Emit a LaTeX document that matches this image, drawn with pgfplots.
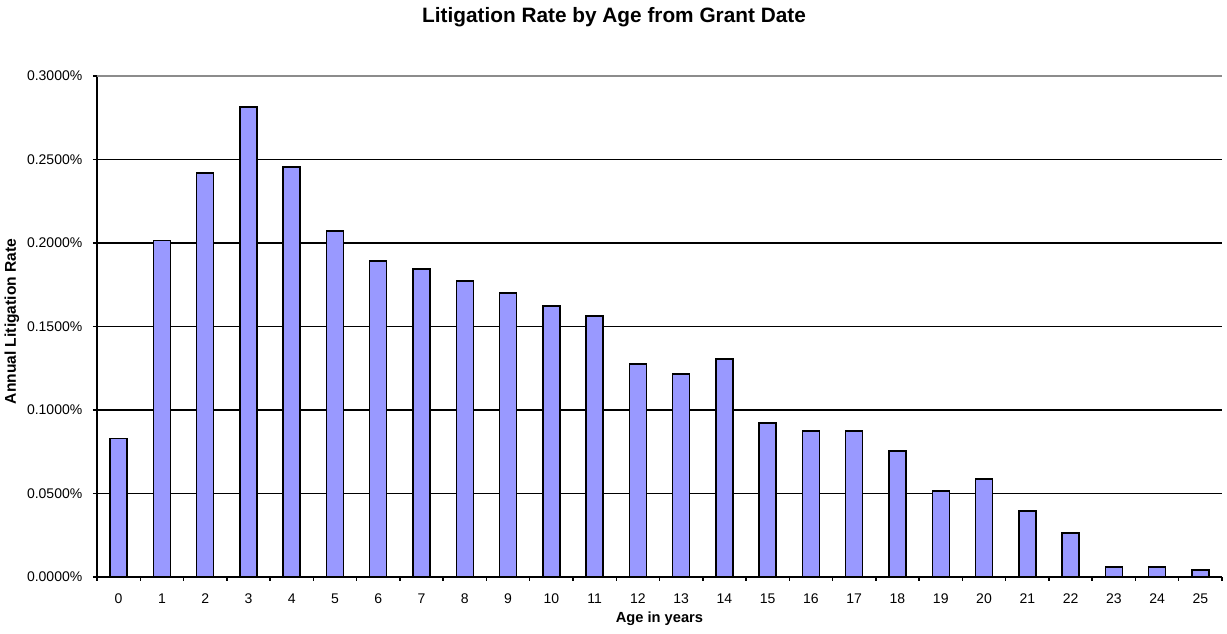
\documentclass[border=0pt]{standalone}
\usepackage{pgfplots}
\pgfplotsset{compat=1.18}
\usepackage{fontspec}
\setmainfont{Liberation Sans}
\definecolor{barblue}{HTML}{9999FF}
\begin{document}
\begin{tikzpicture}
\begin{axis}[
  at={(72.75pt,42.75pt)}, anchor=south west,
  scale only axis, width=843.75pt, height=375.75pt,
  xmin=-0.5, xmax=25.5, ymin=0, ymax=0.3,
  axis x line*=bottom, axis y line*=left,
  axis line style={black, line width=1.4pt, -},
  ybar, bar width=12.75pt,
  xtick={0,...,25},
  major x tick style={draw=none},
  minor xtick={-0.5,0.5,...,25.5},
  minor x tick style={black, line width=1.1pt},
  minor tick length=3pt,
  ytick={0,0.05,0.1,0.15,0.2,0.25,0.3},
  yticklabels={0.0000\%,0.0500\%,0.1000\%,0.1500\%,0.2000\%,0.2500\%,0.3000\%},
  major tick length=3pt,
  tick align=outside,
  y tick style={black, line width=1.1pt},
  ymajorgrids, grid style={black, line width=1.25pt},
  ticklabel style={font=\fontsize{10.5}{12}\selectfont},
  yticklabel style={xshift=-4.5pt},
  xticklabel style={/pgf/number format/assume math mode=true, font=\fontsize{10.5}{12}\selectfont, yshift=-5.75pt},
  clip=false,
]
\addplot[fill=barblue, draw=black, line width=1.1pt] coordinates {
(0,0.0828) (1,0.2016) (2,0.2419) (3,0.2814) (4,0.2455) (5,0.2072)
(6,0.1892) (7,0.1844) (8,0.1772) (9,0.1701) (10,0.1623) (11,0.1563)
(12,0.1275) (13,0.1216) (14,0.1305) (15,0.0922) (16,0.0874) (17,0.0874)
(18,0.0754) (19,0.0515) (20,0.0587) (21,0.0395) (22,0.0263) (23,0.0060)
(24,0.0060) (25,0.0042)
};
\draw[gray!90, line width=1.1pt] (axis cs:-0.5,0.3) -- (axis cs:25.5,0.3);
\end{axis}
\node[font=\fontsize{15.6}{17}\selectfont\bfseries] at (460.5pt,462.75pt) {Litigation Rate by Age from Grant Date};
\node[font=\fontsize{11}{13}\selectfont\bfseries] at (494.6pt,11.25pt) {Age in years};
\node[font=\fontsize{11.7}{13}\selectfont\bfseries, rotate=90] at (9pt,234.4pt) {Annual Litigation Rate};
\pgfresetboundingbox
\useasboundingbox (0,0) rectangle (920.25pt,475.5pt);
\end{tikzpicture}
\end{document}
